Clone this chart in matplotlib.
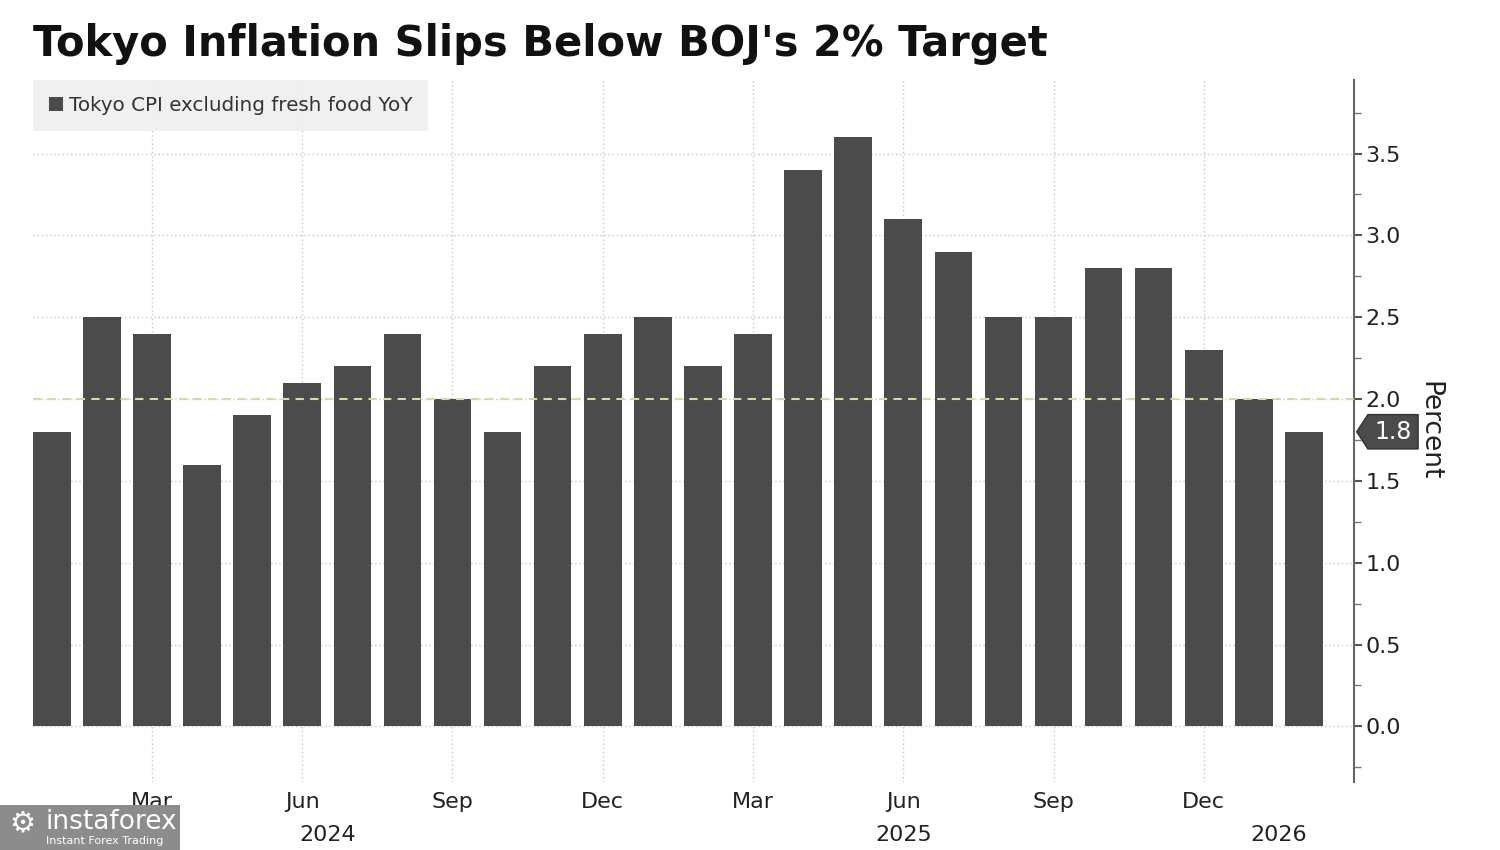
"""
Tokyo CPI excluding fresh food, YoY, monthly bars vs. BOJ 2% target.
"""

import matplotlib.pyplot as plt
from matplotlib.patches import Polygon, Rectangle
from matplotlib.ticker import MultipleLocator

# Jan 2024 .. Feb 2026
cpi_yoy = [1.8, 2.5, 2.4, 1.6, 1.9, 2.1, 2.2, 2.4, 2.0, 1.8, 2.2, 2.4,
           2.5, 2.2, 2.4, 3.4, 3.6, 3.1, 2.9, 2.5, 2.5, 2.8, 2.8, 2.3,
           2.0, 1.8]
month_ticks = [2, 5, 8, 11, 14, 17, 20, 23]
month_labels = ['Mar', 'Jun', 'Sep', 'Dec', 'Mar', 'Jun', 'Sep', 'Dec']
year_pos = [5.5, 17.0, 24.5]
year_labels = ['2024', '2025', '2026']
boj_target = 2.0

bar_color = '#4b4b4b'
grid_color = '#c8c8c8'

fig = plt.figure(figsize=(15, 8.5), dpi=100)
ax = fig.add_axes([0.022, 0.08, 0.8807, 0.826])

x = list(range(len(cpi_yoy)))
bars = ax.bar(x, cpi_yoy, width=0.75, color=bar_color, zorder=2,
              label='Tokyo CPI excluding fresh food YoY')

# BOJ target line sits on top of the bars
ax.axhline(boj_target, color='#d6dca0', linestyle=(0, (4, 3)), linewidth=1.5, zorder=3)

ax.set_xlim(-0.375, len(cpi_yoy) - 0.0)
ax.set_ylim(-0.34, 3.95)

# y axis on the right
ax.yaxis.tick_right()
ax.yaxis.set_label_position('right')
ax.yaxis.set_major_locator(MultipleLocator(0.5))
ax.yaxis.set_minor_locator(MultipleLocator(0.25))
ax.set_yticks([i * 0.5 for i in range(8)])
ax.set_yticklabels([f'{i * 0.5:.1f}' for i in range(8)])
ax.tick_params(axis='y', which='major', length=6, width=1.5, color='#555555',
               labelsize=16, pad=2, labelcolor='#222222')
ax.tick_params(axis='y', which='minor', length=5, width=1.0, color='#777777')
ax.set_ylabel('Percent', fontsize=19, rotation=-90, labelpad=30, color='#222222')

ax.set_xticks(month_ticks)
ax.set_xticklabels(month_labels)
ax.tick_params(axis='x', length=0, labelsize=16, pad=7, labelcolor='#222222')
for xp, yl in zip(year_pos, year_labels):
    ax.text(xp, -0.075, yl, transform=ax.get_xaxis_transform(),
            ha='center', va='center', fontsize=16, color='#222222')

for side in ['top', 'left', 'bottom']:
    ax.spines[side].set_visible(False)
ax.spines['right'].set_color('#666666')
ax.spines['right'].set_linewidth(1.5)

ax.grid(True, which='major', color=grid_color, linestyle=(0, (1, 2)), linewidth=1.0, zorder=0)
ax.set_axisbelow(True)

# last value tag on the axis
last = cpi_yoy[-1]
yt = ax.get_yaxis_transform()
tag = Polygon([(1.002, last), (1.0105, last + 0.105), (1.0485, last + 0.105),
               (1.0485, last - 0.105), (1.0105, last - 0.105)],
              closed=True, transform=yt, clip_on=False,
              facecolor=bar_color, edgecolor='#333333', zorder=5)
ax.add_patch(tag)
ax.text(1.0295, last, f'{last:.1f}', transform=yt, ha='center', va='center',
        fontsize=17, color='white', zorder=6, clip_on=False)

leg = ax.legend(loc='upper left', bbox_to_anchor=(0.0, 1.0), borderaxespad=0,
                frameon=True, fancybox=False, facecolor='#eeeeee', edgecolor='none',
                framealpha=0.85, fontsize=14.3, handlelength=0.7, handleheight=0.7,
                handletextpad=0.3, borderpad=0.8)
for t in leg.get_texts():
    t.set_color('#333333')

fig.text(0.022, 0.948, "Tokyo Inflation Slips Below BOJ's 2% Target",
         fontsize=30, fontweight='bold', ha='left', va='center', color='#111111')

# watermark
fig.patches.append(Rectangle((0.0, 0.0), 0.12, 0.053, transform=fig.transFigure,
                             facecolor='#8c8c8c', edgecolor='none', zorder=10))
fig.text(0.006, 0.031, '\u2699', fontsize=21, color='white', ha='left', va='center', zorder=11)
fig.text(0.030, 0.033, 'instaforex', fontsize=19, color='white', ha='left', va='center', zorder=11)
fig.text(0.031, 0.010, 'Instant Forex Trading', fontsize=8, color='white', ha='left', va='center', zorder=11)

fig.savefig('out.png', dpi=100, facecolor='white')
